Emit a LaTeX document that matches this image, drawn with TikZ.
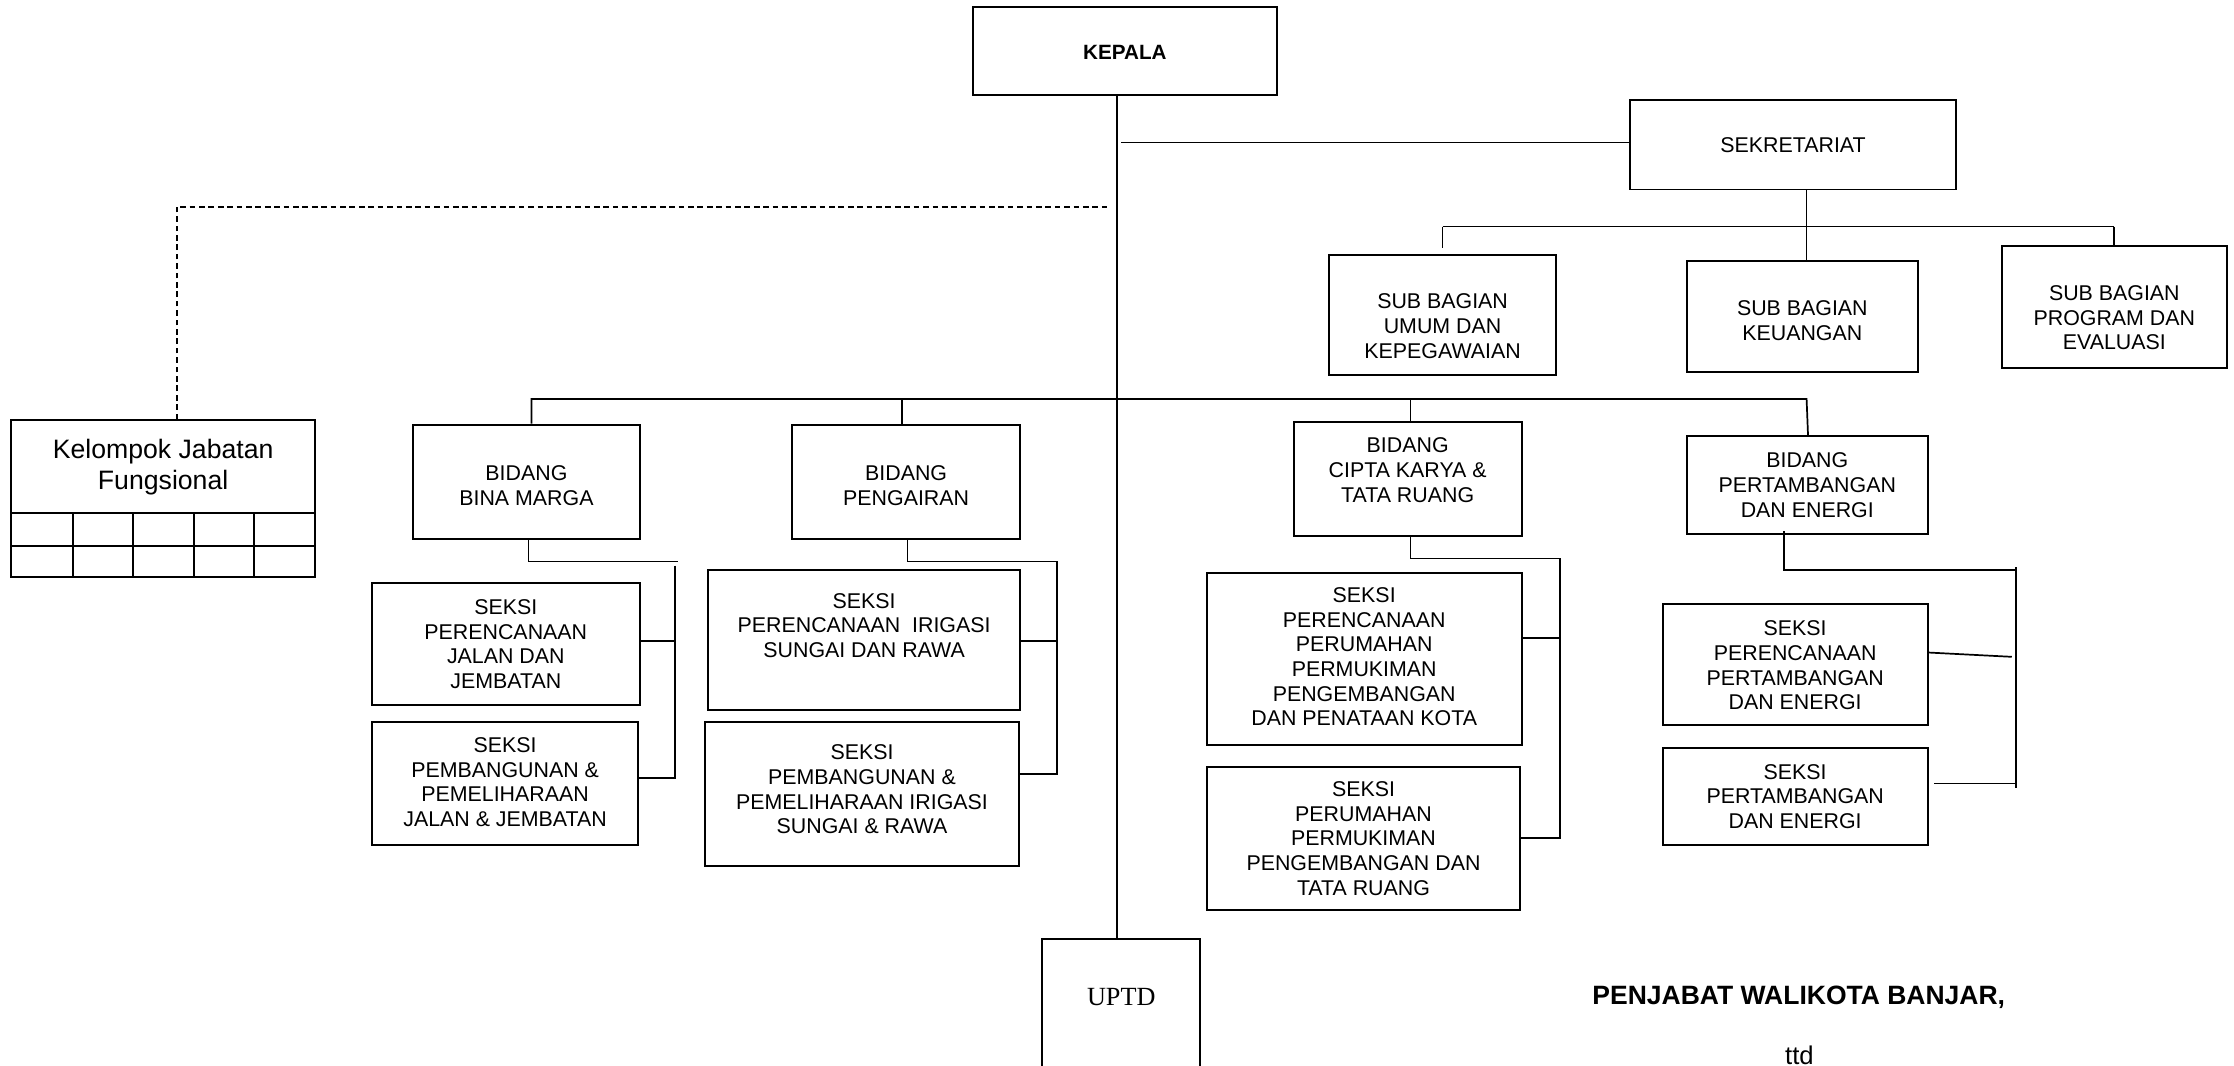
\documentclass[tikz,border=0pt]{standalone}
\usepackage{fontspec}
\setmainfont{Liberation Sans}
\newfontfamily\uptdfont{Liberation Serif}
\tikzset{
  orgbox/.style={draw, line width=1.4pt, inner sep=0pt},
  txt/.style={align=center, inner sep=0pt, font=\fontsize{15}{17.3}\selectfont},
  conn/.style={line width=1.2pt},
  trunkline/.style={line width=1pt},
  dashline/.style={line width=1.3pt, dash pattern=on 4pt off 2.6pt},
  gridline/.style={line width=1.3pt},
}
% name, x1, y1, x2, y2, text dy, text
\newcommand\orgbx[7]{%
  \node[orgbox, minimum width={#4-#2}, minimum height={#5-#3}] (#1) at ({(#2+#4)/2},{(#3+#5)/2}) {};
  \node[txt] (#1-t) at ({(#2+#4)/2},{(#3+#5)/2+#6}) {#7};
}
\begin{document}
\begin{tikzpicture}[x=1pt,y=-1pt]
\useasboundingbox (0,0) rectangle (1568,748);
\fill[white] (0,0) rectangle (1568,748);
\clip (0,0) rectangle (1568,748);

% boxes
\orgbx{kepala}{683}{5}{896}{67}{1}{\fontsize{14.5}{17}\bfseries KEPALA}
\orgbx{sek}{1144}{70}{1373}{133}{0.5}{SEKRETARIAT}
\orgbx{sbu}{933}{179}{1092}{263}{8}{SUB BAGIAN\\UMUM DAN\\KEPEGAWAIAN}
\orgbx{sbk}{1184}{183}{1346}{261}{3}{SUB BAGIAN\\KEUANGAN}
\orgbx{sbp}{1405}{173}{1563}{258}{7.5}{SUB BAGIAN\\PROGRAM DAN\\EVALUASI}

\orgbx{bm}{290}{298}{449}{378}{3}{BIDANG\\BINA MARGA}
\orgbx{pg}{556}{298}{716}{378}{3}{BIDANG\\PENGAIRAN}
\orgbx{ck}{908}{296}{1068}{376}{-6}{BIDANG\\CIPTA KARYA \&\\TATA RUANG}
\orgbx{pe}{1184}{306}{1353}{375}{0}{BIDANG\\PERTAMBANGAN\\DAN ENERGI}

\orgbx{sa}{261}{409}{449}{495}{0}{SEKSI\\PERENCANAAN\\JALAN DAN\\JEMBATAN}
\orgbx{sb}{261}{507}{448}{593}{-1}{SEKSI\\PEMBANGUNAN \&\\PEMELIHARAAN\\JALAN \& JEMBATAN}
\orgbx{sc}{497}{400}{716}{498}{-10}{SEKSI\\PERENCANAAN~ IRIGASI\\SUNGAI DAN RAWA}
\orgbx{sd}{495}{507}{715}{608}{-3.5}{SEKSI\\PEMBANGUNAN \&\\PEMELIHARAAN IRIGASI\\SUNGAI \& RAWA}
\orgbx{se}{847}{402}{1068}{523}{-1.5}{SEKSI\\PERENCANAAN\\PERUMAHAN\\PERMUKIMAN\\PENGEMBANGAN\\DAN PENATAAN KOTA}
\orgbx{sf}{847}{538}{1067}{639}{0}{SEKSI\\PERUMAHAN\\PERMUKIMAN\\PENGEMBANGAN DAN\\TATA RUANG}
\orgbx{sg}{1167}{424}{1353}{509}{0.5}{SEKSI\\PERENCANAAN\\PERTAMBANGAN\\DAN ENERGI}
\orgbx{sh}{1167}{525}{1353}{593}{0}{SEKSI\\PERTAMBANGAN\\DAN ENERGI}

% Kelompok Jabatan Fungsional
\node[orgbox, minimum width=213, minimum height=110] (kjf) at (114.5,350) {};
\node[txt, font=\fontsize{18.7}{22}\selectfont] (kjf-t) at (114.5,328) {Kelompok Jabatan\\Fungsional};
\draw[gridline] (kjf.west |- 0,360) -- (kjf.east |- 0,360);
\draw[gridline] (kjf.west |- 0,383) -- (kjf.east |- 0,383);
\foreach \gx in {51,93.5,136,178.5} \draw[gridline] (\gx,360) -- (kjf.south -| \gx,0);

% UPTD
\node[orgbox, minimum width=111, minimum height=120] (uptd) at (786.5,719) {};
\node[inner sep=0pt, anchor=base, font=\uptdfont\fontsize{18.4}{20}\selectfont] (uptd-t) at (787,706) {UPTD};

% signature
\node[inner sep=0pt, anchor=base, font=\fontsize{18.6}{21}\bfseries] (pj) at (1262.5,705) {PENJABAT WALIKOTA BANJAR,};
\node[inner sep=0pt, anchor=base, font=\fontsize{18}{21}\selectfont] (ttd) at (1263,747) {ttd};

% trunk
\draw[trunkline] (kepala.south -| 784,0) -- (uptd.north -| 784,0);
% sekretariat
\draw[conn] (sek.west |- 0,100) -- (787,100);
\draw[conn] (sek.south -| 1268,0) -- (sbk.north -| 1268,0);
\draw[conn] (sbu.north |- 0,159) -- (sbp.north |- 0,159);
\draw[conn] (sbu.north |- 0,159) -- (sbu.north |- 0,174);
\draw[conn] (sbp.north |- 0,159) -- (sbp.north);

% dashed to Kelompok
\draw[dashline] (kjf.north -| 124,0) -- (124,145) -- (778,145);

% bidang bar
\draw[conn] (bm.north -| 373,0) -- (373,280) -- (1268,280) -- (pe.north -| 1269,0);
\draw[conn] (pg.north -| 633,0) -- (633,280);
\draw[conn] (ck.north -| 990,0) -- (990,280);

% Bina Marga
\draw[conn] (bm.south -| 371,0) -- (371,394) -- (476,394);
\draw[conn] (474,397) -- (474,547);
\draw[conn] (sa.east |- 0,450) -- (474,450);
\draw[conn] (sb.east |- 0,546) -- (474,546);

% Pengairan
\draw[conn] (pg.south -| 637,0) -- (637,394) -- (742,394) -- (742,543) -- (sd.east |- 0,543);
\draw[conn] (sc.east |- 0,450) -- (742,450);

% Cipta Karya
\draw[conn] (ck.south -| 990,0) -- (990,392) -- (1095,392) -- (1095,588) -- (sf.east |- 0,588);
\draw[conn] (se.east |- 0,448) -- (1095,448);

% Pertambangan
\draw[conn] (pe.south -| 1252,0) ++(0,-3) -- (1252,400) -- (1415,400);
\draw[conn] (1415,398) -- (1415,553);
\draw[conn] (sg.east |- 0,458) -- (1412,461);
\draw[conn] (sh.east |- 0,550) ++(4,0) -- (1414,550);
\end{tikzpicture}
\end{document}
